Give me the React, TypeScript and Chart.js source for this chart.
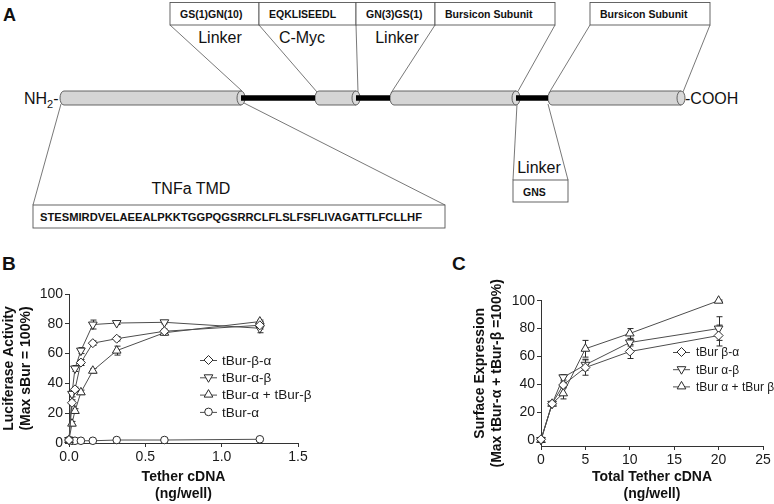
import React, { useEffect, useRef } from 'react';
import { Chart, registerables } from 'chart.js';
Chart.register(...registerables);

const FONT = "'Liberation Sans', Arial, Helvetica, sans-serif";

// ---------- Panel B data ----------
const doseB = [0, 0.0195, 0.039, 0.078, 0.156, 0.3125, 0.625, 1.25];
const bBetaAlpha = [2, 27, 36, 54, 67, 70, 75, 79];
const bBetaAlphaErr = [0, 2, 1.5, 2, 1.5, 1.5, 1.5, 2.5];
const bAlphaBeta = [2, 33, 50, 62, 79.5, 80.5, 81, 77];
const bAlphaBetaErr = [0, 2, 2, 2, 3, 1, 1, 3];
const bAlphaPlusBeta = [2, 13, 21.5, 34, 48.5, 62, 74, 81.5];
const bAlphaPlusBetaErr = [0, 1.5, 1.5, 1.5, 1.5, 3, 1.5, 1];
const bAlphaOnly = [2, 1.5, 1.5, 1.5, 1.5, 2, 2, 2.5];
const labelsB = ['tBur-β-α', 'tBur-α-β', 'tBur-α + tBur-β', 'tBur-α'];
const xTicksB = [0, 0.5, 1.0, 1.5];
const yTicksB = [0, 20, 40, 60, 80, 100];

// ---------- Panel C data ----------
const doseC = [0, 1.25, 2.5, 5, 10, 20];
const cBetaAlpha = [0.5, 26, 39.5, 52, 63.5, 75];
const cBetaAlphaErr = [1.5, 1, 2, 5.5, 5, 7.5];
const cAlphaBeta = [0, 26, 45, 54, 70, 80];
const cAlphaBetaErr = [1.5, 1, 2, 4, 2.5, 8.5];
const cAlphaPlusBeta = [0, 26, 33.5, 65.5, 76.5, 100];
const cAlphaPlusBetaErr = [1.5, 1, 4, 6, 3.5, 0.5];
const labelsC = ['tBur β-α', 'tBur α-β', 'tBur α + tBur β'];
const xTicksC = [0, 5, 10, 15, 20, 25];
const yTicksC = [0, 20, 40, 60, 80, 100];

const LINE = '#4d4d4d';
const EDGE = '#2b2b2b';

type Style = { style: string; radius: number; rotation: number };
const DIAMOND: Style = { style: 'rectRot', radius: 4.5, rotation: 0 };
const TRI_DOWN: Style = { style: 'triangle', radius: 5, rotation: 180 };
const TRI_UP: Style = { style: 'triangle', radius: 5, rotation: 0 };
const CIRCLE: Style = { style: 'circle', radius: 3.8, rotation: 0 };

function marker(ctx: CanvasRenderingContext2D, s: Style, x: number, y: number) {
  const r = s.radius;
  ctx.beginPath();
  if (s.style === 'circle') {
    ctx.arc(x, y, r, 0, Math.PI * 2);
  } else if (s.style === 'rectRot') {
    ctx.moveTo(x, y - r);
    ctx.lineTo(x + r, y);
    ctx.lineTo(x, y + r);
    ctx.lineTo(x - r, y);
    ctx.closePath();
  } else {
    let rad = (s.rotation * Math.PI) / 180;
    ctx.moveTo(x + Math.sin(rad) * r, y - Math.cos(rad) * r);
    rad += (2 * Math.PI) / 3;
    ctx.lineTo(x + Math.sin(rad) * r, y - Math.cos(rad) * r);
    rad += (2 * Math.PI) / 3;
    ctx.lineTo(x + Math.sin(rad) * r, y - Math.cos(rad) * r);
    ctx.closePath();
  }
  ctx.fillStyle = '#fff';
  ctx.fill();
  ctx.strokeStyle = EDGE;
  ctx.lineWidth = 1;
  ctx.stroke();
}

const errorBarPlugin = {
  id: 'errorBars',
  beforeDatasetsDraw(chart: any) {
    const ctx = chart.ctx;
    const xs = chart.scales.x;
    const ys = chart.scales.y;
    chart.data.datasets.forEach((ds: any) => {
      if (!ds.errors) return;
      ctx.save();
      ctx.strokeStyle = EDGE;
      ctx.lineWidth = 1;
      ds.data.forEach((p: any, j: number) => {
        const e = ds.errors[j];
        if (!e) return;
        const x = Math.round(xs.getPixelForValue(p.x)) + 0.5;
        const y1 = ys.getPixelForValue(p.y + e);
        const y2 = ys.getPixelForValue(p.y - e);
        ctx.beginPath();
        ctx.moveTo(x, y1);
        ctx.lineTo(x, y2);
        ctx.moveTo(x - 3, y1);
        ctx.lineTo(x + 3, y1);
        ctx.moveTo(x - 3, y2);
        ctx.lineTo(x + 3, y2);
        ctx.stroke();
      });
      ctx.restore();
    });
  },
};

const legendPlugin = {
  id: 'customLegend',
  afterDraw(chart: any, _args: any, opts: any) {
    const ctx = chart.ctx;
    ctx.save();
    chart.data.datasets.forEach((ds: any, i: number) => {
      const y = opts.y + i * opts.gap;
      ctx.strokeStyle = LINE;
      ctx.lineWidth = 1;
      ctx.beginPath();
      ctx.moveTo(opts.x, y + 0.5);
      ctx.lineTo(opts.x + opts.len, y + 0.5);
      ctx.stroke();
      marker(ctx, ds.markerStyle, opts.x + opts.len / 2, y);
      ctx.fillStyle = '#1a1a1a';
      ctx.font = `${opts.size}px ${FONT}`;
      ctx.textBaseline = 'middle';
      ctx.textAlign = 'left';
      ctx.fillText(ds.label, opts.textX, y + 1);
    });
    ctx.restore();
  },
};

function makeDataset(label: string, xs: number[], ys: number[], errs: number[] | null, s: Style) {
  return {
    label,
    data: xs.map((x, i) => ({ x, y: ys[i] })),
    errors: errs,
    markerStyle: s,
    showLine: true,
    borderColor: LINE,
    borderWidth: 1,
    pointStyle: s.style,
    pointRadius: s.radius,
    pointRotation: s.rotation,
    pointBackgroundColor: '#fff',
    pointBorderColor: EDGE,
    pointBorderWidth: 1,
    clip: false,
    tension: 0,
  };
}

function axisCommon() {
  return {
    grid: { display: true, drawOnChartArea: false, drawTicks: true, tickLength: 4, color: '#333', lineWidth: 1 },
    border: { display: true, color: '#333', width: 1 },
  };
}

function makeConfig(p: any) {
  return {
    type: 'scatter',
    data: { datasets: p.datasets },
    plugins: [errorBarPlugin, legendPlugin],
    options: {
      animation: false,
      responsive: false,
      maintainAspectRatio: false,
      events: [],
      layout: { padding: { left: p.padL, top: p.padT, right: p.padR, bottom: 0 } },
      plugins: {
        legend: { display: false },
        tooltip: { enabled: false },
        customLegend: p.legend,
      },
      scales: {
        x: {
          type: 'linear',
          min: p.xMin,
          max: p.xMax,
          afterBuildTicks: (s: any) => {
            s.ticks = p.xTicks.map((v: number) => ({ value: v }));
          },
          afterFit: (s: any) => {
            s.height = p.xH;
          },
          ticks: {
            color: '#1a1a1a',
            font: { family: FONT, size: 14 },
            padding: 2,
            maxRotation: 0,
            callback: p.xFmt,
          },
          title: {
            display: true,
            text: p.xTitle,
            color: '#111',
            font: { family: FONT, size: 14, weight: 'bold', lineHeight: 1.2 },
            padding: { top: 0, bottom: 1.6 },
          },
          ...axisCommon(),
        },
        y: {
          type: 'linear',
          min: p.yMin,
          max: p.yMax,
          afterBuildTicks: (s: any) => {
            s.ticks = p.yTicks.map((v: number) => ({ value: v }));
          },
          afterFit: (s: any) => {
            s.width = p.yW;
          },
          ticks: {
            color: '#1a1a1a',
            font: { family: FONT, size: 14 },
            padding: 2,
          },
          title: {
            display: true,
            text: p.yTitle,
            color: '#111',
            font: { family: FONT, size: 14, weight: 'bold', lineHeight: 1.2 },
            padding: { top: 0.6, bottom: 0 },
          },
          ...axisCommon(),
        },
      },
    },
  };
}

function ChartCanvas({ config, left, top, width, height }: any) {
  const ref = useRef<HTMLCanvasElement | null>(null);
  useEffect(() => {
    if (!ref.current) return;
    const chart = new Chart(ref.current, config);
    return () => chart.destroy();
  }, []);
  return (
    <canvas
      ref={ref}
      width={width}
      height={height}
      style={{ position: 'absolute', left, top, width, height }}
    />
  );
}

const configB = makeConfig({
  datasets: [
    makeDataset(labelsB[0], doseB, bBetaAlpha, bBetaAlphaErr, DIAMOND),
    makeDataset(labelsB[1], doseB, bAlphaBeta, bAlphaBetaErr, TRI_DOWN),
    makeDataset(labelsB[2], doseB, bAlphaPlusBeta, bAlphaPlusBetaErr, TRI_UP),
    makeDataset(labelsB[3], doseB, bAlphaOnly, null, CIRCLE),
  ],
  padL: 0,
  padT: 24,
  padR: 92,
  xH: 61,
  yW: 69,
  xMin: 0,
  xMax: 1.5,
  yMin: 0,
  yMax: 100,
  xTicks: xTicksB,
  yTicks: yTicksB,
  xFmt: (v: any) => Number(v).toFixed(1),
  xTitle: ['Tether cDNA', '(ng/well)'],
  yTitle: ['Luciferase Activity', '(Max sBur = 100%)'],
  legend: { x: 200, y: 90, gap: 17.3, len: 17, textX: 222, size: 13.5 },
});

const configC = makeConfig({
  datasets: [
    makeDataset(labelsC[0], doseC, cBetaAlpha, cBetaAlphaErr, DIAMOND),
    makeDataset(labelsC[1], doseC, cAlphaBeta, cAlphaBetaErr, TRI_DOWN),
    makeDataset(labelsC[2], doseC, cAlphaPlusBeta, cAlphaPlusBetaErr, TRI_UP),
  ],
  padL: 71,
  padT: 30.7,
  padR: 11,
  xH: 58,
  yW: 70,
  xMin: 0,
  xMax: 25,
  yMin: -4.3,
  yMax: 100,
  xTicks: xTicksC,
  yTicks: yTicksC,
  xFmt: (v: any) => String(v),
  xTitle: ['Total Tether cDNA', '(ng/well)'],
  yTitle: ['Surface Expression', '(Max tBur-α + tBur-β =100%)'],
  legend: { x: 273, y: 82, gap: 17.2, len: 17, textX: 296, size: 12 },
});

function Cylinder({ xl, xr, yc, h }: { xl: number; xr: number; yc: number; h: number }) {
  const rx = 4;
  const ry = h / 2;
  const top = yc - ry;
  const bot = yc + ry;
  const d = `M ${xl + rx} ${top} L ${xr} ${top} L ${xr} ${bot} L ${xl + rx} ${bot} A ${rx} ${ry} 0 0 1 ${xl + rx} ${top} Z`;
  return (
    <g>
      <path d={d} fill="#d5d5d5" stroke="#555" strokeWidth={0.9} />
      <ellipse cx={xr} cy={yc} rx={rx} ry={ry} fill="#d9d9d9" stroke="#555" strokeWidth={0.9} />
    </g>
  );
}

function Diagram() {
  const boxes = [
    { x: 170, w: 89, t: 'GS(1)GN(10)' },
    { x: 259, w: 97, t: 'EQKLISEEDL' },
    { x: 356, w: 79, t: 'GN(3)GS(1)' },
    { x: 435, w: 120, t: 'Bursicon Subunit' },
    { x: 590, w: 120, t: 'Bursicon Subunit' },
  ];
  const conn: number[][] = [
    [170, 25, 242, 91],
    [259, 25, 317, 92],
    [356, 25, 358, 92],
    [435, 25, 391, 93],
    [555, 25, 517, 93],
    [590, 25, 549, 93],
    [710, 25, 683, 92],
    [61, 104, 33, 205],
    [244, 103, 445, 205],
    [517, 104, 513, 180],
    [548, 104, 568, 180],
  ];
  return (
    <svg width={774} height={262} style={{ position: 'absolute', left: 0, top: 0 }} fontFamily={FONT}>
      <text x={3} y={21} fontSize={18} fontWeight="bold" fill="#111">A</text>
      {boxes.map((b, i) => (
        <g key={i}>
          <rect x={b.x} y={2.5} width={b.w} height={22.5} fill="#fff" stroke="#555" strokeWidth={0.9} />
          <text x={b.x + 10} y={17.5} fontSize={10.5} fontWeight="bold" fill="#111">{b.t}</text>
        </g>
      ))}
      {conn.map((c, i) => (
        <line key={i} x1={c[0]} y1={c[1]} x2={c[2]} y2={c[3]} stroke="#555" strokeWidth={0.8} />
      ))}
      <text x={220} y={43} fontSize={16} textAnchor="middle" fill="#111">Linker</text>
      <text x={302} y={43} fontSize={16} textAnchor="middle" fill="#111">C-Myc</text>
      <text x={397} y={43} fontSize={16} textAnchor="middle" fill="#111">Linker</text>

      <Cylinder xl={60} xr={241} yc={98} h={14} />
      <Cylinder xl={315} xr={356} yc={98} h={14} />
      <Cylinder xl={390} xr={516} yc={98} h={14} />
      <Cylinder xl={548} xr={681} yc={98} h={14} />
      <line x1={241} y1={98} x2={315} y2={98} stroke="#000" strokeWidth={5.5} />
      <line x1={356} y1={98} x2={390} y2={98} stroke="#000" strokeWidth={5.5} />
      <line x1={516} y1={98} x2={548} y2={98} stroke="#000" strokeWidth={5.5} />

      <text x={24} y={104} fontSize={16} fill="#111">
        NH<tspan fontSize={11} dy={4}>2</tspan><tspan dy={-4}>-</tspan>
      </text>
      <text x={685} y={104} fontSize={16} fill="#111">-COOH</text>

      <text x={191} y={194} fontSize={16} textAnchor="middle" fill="#111">TNFa TMD</text>
      <rect x={33} y={205} width={412} height={23} fill="#fff" stroke="#555" strokeWidth={0.9} />
      <text x={40} y={220.5} fontSize={11} fontWeight="bold" fill="#111" textLength={382} lengthAdjust="spacingAndGlyphs">
        STESMIRDVELAEEALPKKTGGPQGSRRCLFLSLFSFLIVAGATTLFCLLHF
      </text>

      <text x={539} y={172.5} fontSize={16} textAnchor="middle" fill="#111">Linker</text>
      <rect x={513} y={180} width={55} height={22} fill="#fff" stroke="#555" strokeWidth={0.9} />
      <text x={523} y={195.5} fontSize={10.5} fontWeight="bold" fill="#111">GNS</text>
    </svg>
  );
}

export default function App() {
  return (
    <div
      style={{
        position: 'absolute',
        left: 0,
        top: 0,
        width: 774,
        height: 504,
        background: '#fff',
        overflow: 'hidden',
        fontFamily: FONT,
      }}
    >
      <Diagram />
      <div style={{ position: 'absolute', left: 2, top: 253, fontSize: 19, fontWeight: 'bold', color: '#111', lineHeight: '22px' }}>B</div>
      <div style={{ position: 'absolute', left: 452, top: 253, fontSize: 19, fontWeight: 'bold', color: '#111', lineHeight: '22px' }}>C</div>
      <ChartCanvas config={configB} left={0} top={270} width={390} height={234} />
      <ChartCanvas config={configC} left={400} top={270} width={374} height={234} />
    </div>
  );
}
